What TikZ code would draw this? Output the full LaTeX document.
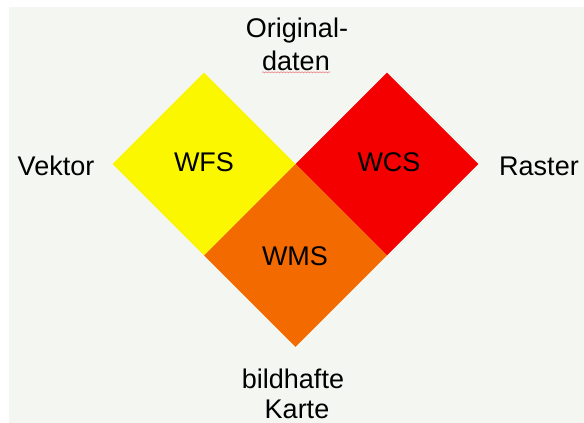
\documentclass[tikz,border=0pt]{standalone}
\usepackage{fontspec}
\setmainfont{Liberation Sans}
\usetikzlibrary{shapes.geometric,decorations.pathmorphing}
\definecolor{slidebg}{HTML}{F4F6F2}
\definecolor{wfsyellow}{HTML}{FAF700}
\definecolor{wcsred}{HTML}{F50000}
\definecolor{wmsorange}{HTML}{F26A00}
\definecolor{spellred}{HTML}{E89090}
\tikzset{
  sq/.style={diamond, aspect=1, minimum width=183pt, minimum height=183pt, inner sep=0pt, draw=none},
  lbl/.style={font=\fontsize{27}{32}\selectfont, inner sep=0pt, anchor=base, text=black}
}
\begin{document}
\begin{tikzpicture}[x=1pt,y=-1pt]
\useasboundingbox (0,0) rectangle (584,423);
\fill[white] (0,0) rectangle (584,423);
\fill[slidebg] (9,7) rectangle (584,423);
% diamonds
\node[sq, fill=wfsyellow] (wfs) at (204,164) {};
\node[sq, fill=wcsred] (wcs) at (387,164) {};
\node[sq, fill=wmsorange] (wms) at (295.5,255.5) {};
% labels in diamonds
\node[lbl] (twfs) at (204,171.5) {WFS};
\node[lbl] (twcs) at (389,171.5) {WCS};
\node[lbl] (twms) at (295,265) {WMS};
% outer labels
\node[lbl] (orig) at (297,37.5) {Original-};
\node[lbl] (daten) at (296,70.5) {daten};
\node[lbl] (vektor) at (56,175) {Vektor};
\node[lbl] (raster) at (539,175) {Raster};
\node[lbl] (bild) at (293,388) {bildhafte};
\node[lbl] (karte) at (297,418.5) {Karte};
% spell-check underline
\draw[spellred, line width=0.7pt, decorate, decoration={snake, amplitude=0.5pt, segment length=3pt}]
  ([yshift=-1.8pt]daten.base west) -- ([yshift=-1.8pt]daten.base east);
\end{tikzpicture}
\end{document}
